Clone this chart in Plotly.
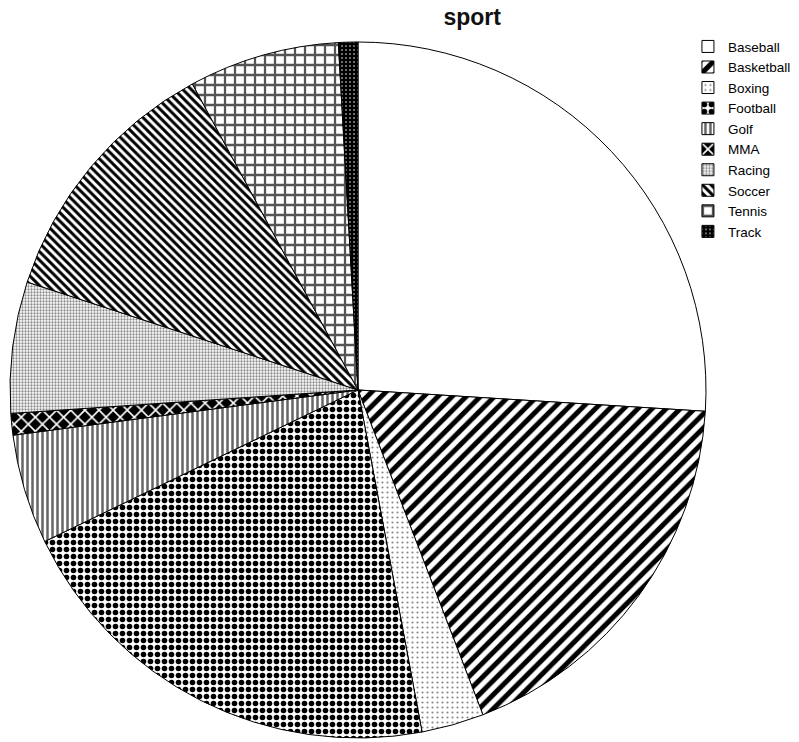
import plotly.graph_objects as go

sports = ["Baseball", "Basketball", "Boxing", "Football", "Golf", "MMA",
          "Racing", "Soccer", "Tennis", "Track"]
shares = [26.0, 18.2, 2.9, 20.8, 5.1, 1.0, 6.1, 12.1, 7.0, 0.9]

pattern_shapes = ["", "/", ".", ".", "|", "x", ".", "\\", "+", "."]
pattern_fg = ["black", "black", "#888888", "black", "#666666", "white",
              "#8a8a8a", "black", "#555555", "white"]
pattern_bg = ["white", "white", "white", "white", "white", "black",
              "white", "white", "white", "black"]
pattern_size = [8, 10, 5, 7, 5, 10, 3, 6, 10, 4]
pattern_solidity = [0.3, 0.5, 0.15, 0.5, 0.5, 0.3, 0.45, 0.5, 0.4, 0.12]

fig = go.Figure(go.Pie(
    labels=sports,
    values=shares,
    sort=False,
    direction="clockwise",
    rotation=0,
    textinfo="none",
    hoverinfo="label+percent",
    marker=dict(
        colors=pattern_bg,
        line=dict(color="black", width=1),
        pattern=dict(
            shape=pattern_shapes,
            fgcolor=pattern_fg,
            bgcolor=pattern_bg,
            fgopacity=1,
            size=pattern_size,
            solidity=pattern_solidity,
            fillmode="replace",
        ),
    ),
    domain=dict(x=[0.0125, 0.8836], y=[0.0054, 0.9434]),
))

fig.update_layout(
    width=799, height=742,
    margin=dict(l=0, r=0, t=0, b=0, autoexpand=False),
    paper_bgcolor="white",
    plot_bgcolor="white",
    font=dict(family="Liberation Sans, Arial, sans-serif", size=13, color="black"),
    title=dict(text="<b>sport</b>", x=0.591, xanchor="center", xref="container",
               y=0.977, yanchor="middle", yref="container",
               font=dict(size=23, family="Liberation Sans, Arial, sans-serif", color="#111111")),
    legend=dict(
        x=0.861, xanchor="left", y=0.958, yanchor="top",
        font=dict(size=13.5),
        tracegroupgap=0, itemwidth=30,
        bgcolor="rgba(0,0,0,0)",
    ),
)

fig.write_html("out.html")
